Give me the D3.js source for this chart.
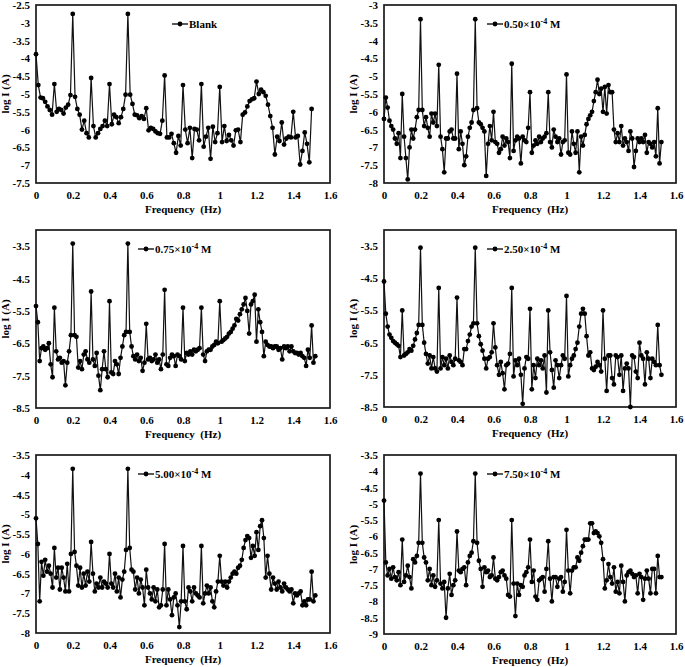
<!DOCTYPE html>
<html>
<head>
<meta charset="utf-8">
<script src="https://cdn.jsdelivr.net/npm/d3@7"></script>
<style>
  html, body { margin: 0; padding: 0; background: #fff; }
  svg { display: block; }
  text { font-family: "Liberation Serif", "Times New Roman", serif; font-weight: bold; fill: #000; }
</style>
</head>
<body>
<svg id="chart" width="685" height="667"></svg>
<script>
// ---------------- DATA ----------------
const freqStepBlank = 0.0125;   // Hz between samples, blank run
const freqStep = 0.01;          // Hz between samples, other runs

const xTicks = [0, 0.2, 0.4, 0.6, 0.8, 1, 1.2, 1.4, 1.6];

const seriesNames = ["Blank", "0.50", "0.75", "2.50", "5.00", "7.50"];

const blank = [
-3.88,-4.75,-5.1,-5.12,-5.22,-5.35,-5.45,-5.58,-4.72,-5.5,
-5.42,-5.45,-5.55,-5.38,-5.3,-5.03,-2.75,-5.08,-5.42,-5.58,
-6.0,-5.75,-6.1,-6.22,-4.55,-5.9,-6.22,-6.1,-5.98,-5.9,
-5.75,-5.9,-4.72,-5.85,-5.58,-5.65,-5.82,-5.65,-5.42,-5.02,
-2.75,-5.02,-5.28,-5.58,-5.6,-5.68,-5.62,-5.7,-5.4,-6.02,
-5.95,-5.98,-6.05,-6.1,-6.12,-5.75,-4.48,-6.22,-6.22,-6.12,
-6.38,-6.65,-6.18,-6.45,-4.75,-6.0,-6.38,-5.95,-6.8,-5.98,
-6.0,-6.3,-4.72,-6.48,-6.2,-5.95,-6.82,-5.92,-6.35,-6.1,
-4.8,-6.35,-5.9,-6.32,-6.15,-6.3,-6.45,-6.02,-6.0,-6.35,
-5.58,-5.52,-5.35,-5.2,-5.15,-5.12,-4.65,-5.0,-4.88,-4.95,
-5.05,-5.3,-5.62,-5.95,-6.7,-6.2,-6.32,-5.8,-6.42,-6.25,
-6.2,-6.22,-5.5,-6.22,-6.18,-6.98,-6.6,-6.08,-6.4,-6.92,
-5.42];

const c050 = [
-6.2,-5.6,-5.88,-6.25,-6.4,-6.5,-6.75,-6.9,-6.6,-7.3,
-5.5,-6.7,-7.3,-7.9,-7.0,-6.5,-6.75,-6.5,-6.15,-5.95,
-3.4,-5.95,-6.4,-6.15,-6.45,-6.7,-6.05,-6.3,-6.05,-6.4,
-4.68,-6.7,-7.05,-7.7,-6.75,-6.75,-6.55,-6.5,-6.75,-6.75,
-4.93,-7.05,-6.55,-6.9,-7.5,-7.25,-6.7,-6.45,-6.3,-5.95,
-3.4,-5.9,-6.3,-6.35,-6.45,-6.55,-7.8,-6.9,-6.4,-6.8,
-6.0,-6.85,-6.9,-7.15,-7.05,-6.7,-6.95,-6.75,-6.85,-7.3,
-4.65,-7.1,-6.8,-6.7,-6.75,-7.45,-6.7,-6.8,-6.85,-6.45,
-5.45,-7.15,-6.95,-6.8,-6.9,-6.7,-6.85,-6.75,-6.7,-6.6,
-5.45,-6.85,-7.0,-6.5,-6.7,-6.85,-6.75,-7.2,-6.85,-6.8,
-4.95,-7.15,-7.2,-6.55,-6.9,-7.15,-6.55,-7.7,-6.7,-6.95,
-6.65,-6.35,-6.2,-6.1,-6.0,-5.7,-5.45,-5.1,-5.5,-5.35,
-6.0,-5.3,-6.05,-5.25,-5.45,-5.45,-6.5,-6.85,-6.6,-6.85,
-6.4,-6.95,-6.75,-6.85,-7.1,-6.55,-6.75,-7.55,-7.1,-6.75,
-6.85,-6.75,-6.85,-6.65,-7.15,-6.85,-6.9,-7.0,-6.85,-7.25,
-5.9,-7.45,-6.85];

const c075 = [
-5.35,-5.85,-7.05,-6.65,-6.6,-6.7,-6.65,-6.5,-7.15,-7.55,
-5.4,-6.75,-7.0,-6.95,-7.1,-7.05,-7.8,-7.1,-6.75,-6.25,
-3.42,-6.25,-6.3,-7.25,-7.05,-7.3,-6.85,-6.75,-7.0,-7.1,
-4.9,-7.0,-7.2,-6.8,-7.5,-7.95,-7.3,-6.75,-7.3,-7.55,
-5.2,-7.4,-7.45,-7.05,-7.15,-7.45,-6.95,-6.6,-6.25,-6.15,
-3.42,-6.15,-6.6,-6.9,-7.0,-6.85,-7.05,-6.95,-7.35,-7.1,
-5.9,-7.0,-6.95,-7.05,-7.0,-6.85,-7.1,-7.0,-7.3,-6.85,
-4.85,-7.15,-7.2,-6.95,-6.85,-6.9,-7.2,-6.85,-6.9,-7.0,
-5.4,-7.05,-6.8,-6.85,-6.75,-6.85,-6.7,-6.75,-6.7,-6.65,
-5.4,-6.85,-7.05,-6.75,-6.7,-6.7,-6.6,-6.55,-6.45,-6.5,
-5.2,-6.45,-6.4,-6.35,-6.3,-6.2,-6.15,-6.05,-5.95,-5.75,
-5.8,-5.6,-5.45,-5.3,-5.1,-5.5,-6.2,-5.3,-5.2,-5.0,
-6.45,-5.45,-5.85,-6.15,-6.9,-6.45,-6.55,-6.6,-6.6,-6.65,
-6.6,-6.6,-6.7,-6.65,-7.0,-6.6,-6.65,-6.6,-6.75,-6.6,
-6.75,-6.8,-6.8,-6.85,-6.8,-6.9,-6.95,-7.2,-6.7,-6.95,
-5.95,-7.1,-6.9];

const c250 = [
-4.6,-5.6,-6.0,-6.25,-6.35,-6.45,-6.5,-6.55,-6.6,-6.95,
-5.5,-6.9,-6.85,-6.8,-6.7,-6.75,-6.6,-6.4,-6.2,-5.95,
-3.55,-5.95,-6.5,-6.85,-7.15,-6.9,-7.3,-6.95,-7.3,-7.4,
-4.8,-7.3,-6.95,-7.2,-7.0,-7.3,-6.9,-7.1,-7.2,-7.0,
-5.1,-7.05,-7.1,-7.2,-6.7,-6.7,-6.45,-6.25,-6.0,-5.9,
-3.55,-5.9,-6.3,-6.55,-6.75,-7.0,-7.3,-7.0,-6.95,-6.8,
-5.9,-6.65,-7.2,-7.5,-7.1,-7.45,-7.95,-7.2,-7.15,-6.85,
-4.8,-7.55,-7.05,-7.2,-7.0,-7.5,-8.4,-7.3,-6.95,-7.0,
-5.45,-7.95,-7.2,-7.6,-7.0,-7.2,-7.05,-7.3,-6.9,-8.05,
-5.5,-6.8,-7.35,-7.9,-7.05,-7.2,-7.6,-7.2,-6.9,-7.0,
-5.05,-7.55,-7.2,-7.0,-6.9,-6.7,-6.5,-6.0,-5.6,-5.45,
-5.6,-6.3,-6.9,-6.8,-7.3,-7.35,-7.25,-7.1,-7.2,-7.4,
-5.5,-7.0,-8.0,-6.9,-6.9,-7.6,-7.8,-6.9,-6.95,-7.5,
-6.9,-8.0,-7.3,-7.15,-7.3,-8.5,-6.9,-6.95,-7.4,-7.6,
-6.5,-6.9,-7.0,-7.8,-6.8,-7.0,-7.6,-7.0,-7.1,-7.2,
-5.95,-7.2,-7.5];

const c500 = [
-5.1,-5.75,-7.2,-6.2,-6.55,-6.15,-6.45,-6.3,-6.5,-6.85,
-5.85,-6.6,-6.35,-6.9,-6.35,-6.6,-6.95,-6.25,-6.95,-6.0,
-3.85,-5.95,-6.3,-6.8,-6.35,-6.85,-6.5,-6.8,-6.45,-6.7,
-5.7,-6.5,-6.95,-6.75,-6.85,-6.6,-6.85,-6.7,-6.75,-6.85,
-6.0,-6.75,-6.85,-6.5,-6.95,-6.6,-7.1,-6.65,-6.45,-5.9,
-3.85,-5.85,-6.4,-6.45,-6.9,-6.6,-7.0,-6.65,-6.85,-7.3,
-6.4,-6.85,-7.0,-7.15,-6.85,-7.2,-6.9,-7.35,-7.3,-6.9,
-5.75,-7.3,-6.9,-7.15,-7.55,-7.1,-7.0,-7.3,-7.85,-7.2,
-5.8,-7.2,-7.4,-6.85,-6.95,-7.2,-6.85,-7.0,-7.05,-7.1,
-5.8,-7.25,-7.0,-6.8,-7.0,-6.85,-7.2,-7.35,-6.95,-6.7,
-6.05,-6.7,-6.8,-6.7,-6.85,-6.7,-6.6,-6.5,-6.45,-6.5,
-6.35,-6.3,-6.15,-5.85,-5.65,-5.55,-5.6,-6.1,-5.8,-6.05,
-5.45,-5.9,-5.3,-5.15,-5.6,-6.6,-6.05,-6.5,-6.9,-6.6,
-6.75,-6.9,-6.7,-6.85,-6.95,-6.75,-6.85,-6.9,-6.95,-6.9,
-7.25,-7.0,-7.05,-7.0,-6.95,-7.3,-7.2,-7.3,-7.15,-7.15,
-6.45,-7.2,-7.05];

const c750 = [
-4.9,-6.8,-7.2,-7.0,-7.3,-6.95,-7.25,-7.35,-7.1,-7.5,
-6.1,-7.4,-7.2,-6.9,-7.25,-7.6,-6.7,-6.8,-6.6,-6.2,
-4.07,-6.2,-6.65,-6.8,-7.35,-7.0,-7.5,-7.2,-7.55,-7.35,
-5.5,-7.45,-7.6,-7.4,-8.5,-7.6,-7.15,-7.8,-7.5,-7.35,
-5.85,-7.05,-7.1,-7.0,-6.95,-7.5,-6.8,-6.6,-6.5,-6.15,
-4.07,-6.2,-6.75,-7.0,-7.55,-6.95,-7.1,-7.05,-7.25,-7.2,
-6.65,-7.3,-7.35,-7.25,-7.1,-7.05,-7.2,-7.3,-7.8,-7.85,
-5.5,-7.45,-8.45,-7.45,-7.8,-7.5,-7.55,-7.2,-7.1,-6.95,
-6.1,-7.4,-7.05,-7.85,-7.95,-7.35,-7.3,-7.25,-7.7,-7.0,
-6.15,-7.3,-8.0,-7.25,-7.25,-7.55,-7.3,-7.25,-7.7,-7.4,
-5.8,-7.05,-7.75,-7.05,-6.95,-6.95,-6.65,-6.75,-6.5,-6.3,
-6.1,-6.1,-6.1,-5.6,-5.6,-5.9,-5.85,-5.9,-6.0,-6.2,
-6.7,-7.6,-7.35,-6.85,-7.25,-7.45,-6.95,-7.7,-7.4,-7.75,
-6.9,-7.4,-8.0,-7.2,-7.1,-7.05,-7.15,-7.25,-7.2,-7.75,
-7.15,-7.25,-7.95,-7.3,-7.05,-7.3,-7.75,-7.0,-7.0,-7.75,
-6.6,-7.25,-7.25];

const yDomains = [[-7.5, -2.5], [-8, -3], [-8.5, -3], [-8.5, -3], [-8, -3.5], [-9, -3.5]];
const yTicks1 = [-7.5, -7, -6.5, -6, -5.5, -5, -4.5, -4, -3.5, -3, -2.5];
const yTicks2 = [-8, -7.5, -7, -6.5, -6, -5.5, -5, -4.5, -4, -3.5, -3];
const yTicks3 = [-8.5, -7.5, -6.5, -5.5, -4.5, -3.5];
const yTicks4 = [-8.5, -7.5, -6.5, -5.5, -4.5, -3.5];
const yTicks5 = [-8, -7.5, -7, -6.5, -6, -5.5, -5, -4.5, -4, -3.5];
const yTicks6 = [-9, -8.5, -8, -7.5, -7, -6.5, -6, -5.5, -5, -4.5, -4, -3.5];

// ---------------- LAYOUT ----------------
const layout = [
  { x0: 36,  x1: 330, y0: 5,   y1: 183, legX: 172 },
  { x0: 384, x1: 676, y0: 5,   y1: 183, legX: 487 },
  { x0: 36,  x1: 330, y0: 230, y1: 408, legX: 138 },
  { x0: 384, x1: 676, y0: 230, y1: 407, legX: 487 },
  { x0: 36,  x1: 330, y0: 455, y1: 633, legX: 138 },
  { x0: 384, x1: 676, y0: 455, y1: 634, legX: 487 }
];

const allValues = [blank, c050, c075, c250, c500, c750];
const allSteps = [freqStepBlank, freqStep, freqStep, freqStep, freqStep, freqStep];
const allYTicks = [yTicks1, yTicks2, yTicks3, yTicks4, yTicks5, yTicks6];

const svg = d3.select("#chart");
const fmt = v => String(v);

layout.forEach((L, k) => {
  const x = d3.scaleLinear().domain([0, 1.6]).range([L.x0, L.x1]);
  const y = d3.scaleLinear().domain(yDomains[k]).range([L.y1, L.y0]);
  const g = svg.append("g");

  // plot frame
  g.append("rect")
    .attr("x", L.x0).attr("y", L.y0)
    .attr("width", L.x1 - L.x0).attr("height", L.y1 - L.y0)
    .attr("fill", "none").attr("stroke", "#1a1a1a").attr("stroke-width", 1.7);

  // axes (labels only, via d3 axes)
  const xa = g.append("g").attr("transform", `translate(0,${L.y1})`)
    .call(d3.axisBottom(x).tickValues(xTicks).tickFormat(fmt).tickSize(0).tickPadding(8));
  xa.select(".domain").remove();
  xa.selectAll("text").attr("font-size", 11).attr("font-family", "Liberation Serif").attr("font-weight", "bold");

  const ya = g.append("g").attr("transform", `translate(${L.x0},0)`)
    .call(d3.axisLeft(y).tickValues(allYTicks[k]).tickFormat(fmt).tickSize(0).tickPadding(6));
  ya.select(".domain").remove();
  ya.selectAll("text").attr("font-size", 11).attr("font-family", "Liberation Serif").attr("font-weight", "bold");

  // axis titles
  g.append("text")
    .attr("x", (L.x0 + L.x1) / 2).attr("y", L.y1 + 30)
    .attr("text-anchor", "middle").attr("font-size", 11)
    .text("Frequency  (Hz)").style("white-space", "pre");
  g.append("text")
    .attr("transform", `translate(${L.x0 - 27},${(L.y0 + L.y1) / 2}) rotate(-90)`)
    .attr("text-anchor", "middle").attr("font-size", 11)
    .text("log I (A)");

  // data
  const vals = allValues[k];
  const step = allSteps[k];
  const pts = vals.map((v, i) => [i * step, v]);
  const line = d3.line().x(d => x(d[0])).y(d => y(d[1]));
  g.append("path").datum(pts)
    .attr("d", line).attr("fill", "none")
    .attr("stroke", "#111").attr("stroke-width", 1.2);
  g.selectAll("circle.pt").data(pts).enter().append("circle")
    .attr("class", "pt")
    .attr("cx", d => x(d[0])).attr("cy", d => y(d[1]))
    .attr("r", 2.4).attr("fill", "#000");

  // legend
  const ly = L.y0 + 19;
  g.append("line").attr("x1", L.legX).attr("x2", L.legX + 16)
    .attr("y1", ly).attr("y2", ly).attr("stroke", "#000").attr("stroke-width", 1.3);
  g.append("circle").attr("cx", L.legX + 8).attr("cy", ly).attr("r", 2.4).attr("fill", "#000");
  const t = g.append("text").attr("x", L.legX + 17).attr("y", ly + 3.5).attr("font-size", 11);
  if (k === 0) {
    t.text(seriesNames[0]);
  } else {
    t.append("tspan").text(seriesNames[k] + "\u00d710");
    t.append("tspan").attr("dy", -4).attr("font-size", 8).text("-4");
    t.append("tspan").attr("dy", 4).text("\u00a0M");
  }
});
</script>
</body>
</html>
